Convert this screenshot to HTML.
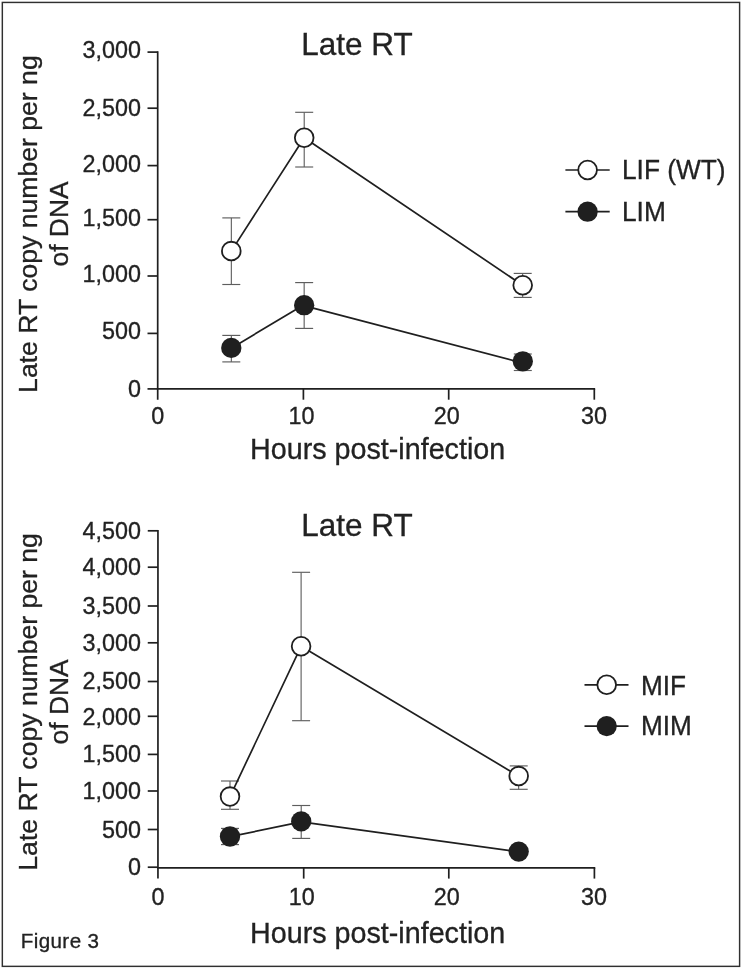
<!DOCTYPE html>
<html><head><meta charset="utf-8"><title>Figure 3</title>
<style>html,body{margin:0;padding:0;background:#fff;}svg{display:block;will-change:transform;}text{font-family:"Liberation Sans",sans-serif;fill:#222222;stroke:#222222;stroke-width:0.32px;}</style>
</head><body>
<svg width="742" height="969" viewBox="0 0 742 969">
<rect x="0" y="0" width="742" height="969" fill="#ffffff"/>
<rect x="2.33" y="2.43" width="737.27" height="963.93" fill="none" stroke="#303030" stroke-width="1.45"/>
<line x1="157.70" y1="51.25" x2="157.70" y2="399.70" stroke="#1f1f1f" stroke-width="1.70" stroke-linecap="butt"/>
<line x1="156.85" y1="388.90" x2="595.15" y2="388.90" stroke="#1f1f1f" stroke-width="1.70" stroke-linecap="butt"/>
<line x1="147.50" y1="52.10" x2="157.70" y2="52.10" stroke="#1f1f1f" stroke-width="1.70" stroke-linecap="butt"/>
<text transform="translate(141.00 58.10) scale(0.9700 1)" font-size="24.12" text-anchor="end" >3,000</text>
<line x1="147.50" y1="108.20" x2="157.70" y2="108.20" stroke="#1f1f1f" stroke-width="1.70" stroke-linecap="butt"/>
<text transform="translate(141.00 116.40) scale(0.9700 1)" font-size="24.12" text-anchor="end" >2,500</text>
<line x1="147.50" y1="165.60" x2="157.70" y2="165.60" stroke="#1f1f1f" stroke-width="1.70" stroke-linecap="butt"/>
<text transform="translate(141.00 171.65) scale(0.9700 1)" font-size="24.12" text-anchor="end" >2,000</text>
<line x1="147.50" y1="219.70" x2="157.70" y2="219.70" stroke="#1f1f1f" stroke-width="1.70" stroke-linecap="butt"/>
<text transform="translate(141.00 225.50) scale(0.9700 1)" font-size="24.12" text-anchor="end" >1,500</text>
<line x1="147.50" y1="276.00" x2="157.70" y2="276.00" stroke="#1f1f1f" stroke-width="1.70" stroke-linecap="butt"/>
<text transform="translate(141.00 281.80) scale(0.9700 1)" font-size="24.12" text-anchor="end" >1,000</text>
<line x1="147.50" y1="333.40" x2="157.70" y2="333.40" stroke="#1f1f1f" stroke-width="1.70" stroke-linecap="butt"/>
<text transform="translate(141.00 338.90) scale(0.9700 1)" font-size="24.12" text-anchor="end" >500</text>
<line x1="147.50" y1="388.90" x2="157.70" y2="388.90" stroke="#1f1f1f" stroke-width="1.70" stroke-linecap="butt"/>
<text transform="translate(141.00 396.90) scale(0.9700 1)" font-size="24.12" text-anchor="end" >0</text>
<text transform="translate(157.80 424.40) scale(0.9700 1)" font-size="24.12" text-anchor="middle" >0</text>
<line x1="303.40" y1="388.90" x2="303.40" y2="399.70" stroke="#1f1f1f" stroke-width="1.70" stroke-linecap="butt"/>
<text transform="translate(301.50 424.40) scale(0.9700 1)" font-size="24.12" text-anchor="middle" >10</text>
<line x1="448.70" y1="388.90" x2="448.70" y2="399.70" stroke="#1f1f1f" stroke-width="1.70" stroke-linecap="butt"/>
<text transform="translate(446.70 424.40) scale(0.9700 1)" font-size="24.12" text-anchor="middle" >20</text>
<line x1="594.30" y1="388.90" x2="594.30" y2="399.70" stroke="#1f1f1f" stroke-width="1.70" stroke-linecap="butt"/>
<text transform="translate(594.00 424.40) scale(0.9700 1)" font-size="24.12" text-anchor="middle" >30</text>
<text transform="translate(301.30 54.90) scale(0.9850 1)" font-size="31.98" text-anchor="start" >Late RT</text>
<text transform="translate(250.10 459.20) scale(1.0000 1)" font-size="28.70" text-anchor="start" >Hours post-infection</text>
<text transform="translate(36.60 224.10) rotate(-90) scale(1.0000 1)" font-size="26.60" text-anchor="middle">Late RT copy number per ng</text>
<text transform="translate(67.60 223.95) rotate(-90) scale(1.0000 1)" font-size="26.45" text-anchor="middle">of DNA</text>
<line x1="231.30" y1="217.90" x2="231.30" y2="284.50" stroke="#4a4a4a" stroke-width="1.00" stroke-linecap="butt"/>
<line x1="222.30" y1="217.90" x2="240.30" y2="217.90" stroke="#5e5e5e" stroke-width="1.15" stroke-linecap="butt"/>
<line x1="222.30" y1="284.50" x2="240.30" y2="284.50" stroke="#5e5e5e" stroke-width="1.15" stroke-linecap="butt"/>
<line x1="304.20" y1="112.30" x2="304.20" y2="167.00" stroke="#4a4a4a" stroke-width="1.00" stroke-linecap="butt"/>
<line x1="295.20" y1="112.30" x2="313.20" y2="112.30" stroke="#5e5e5e" stroke-width="1.15" stroke-linecap="butt"/>
<line x1="295.20" y1="167.00" x2="313.20" y2="167.00" stroke="#5e5e5e" stroke-width="1.15" stroke-linecap="butt"/>
<line x1="522.70" y1="273.40" x2="522.70" y2="297.40" stroke="#4a4a4a" stroke-width="1.00" stroke-linecap="butt"/>
<line x1="513.70" y1="273.40" x2="531.70" y2="273.40" stroke="#5e5e5e" stroke-width="1.15" stroke-linecap="butt"/>
<line x1="513.70" y1="297.40" x2="531.70" y2="297.40" stroke="#5e5e5e" stroke-width="1.15" stroke-linecap="butt"/>
<line x1="231.30" y1="335.40" x2="231.30" y2="361.90" stroke="#4a4a4a" stroke-width="1.00" stroke-linecap="butt"/>
<line x1="222.30" y1="335.40" x2="240.30" y2="335.40" stroke="#5e5e5e" stroke-width="1.15" stroke-linecap="butt"/>
<line x1="222.30" y1="361.90" x2="240.30" y2="361.90" stroke="#5e5e5e" stroke-width="1.15" stroke-linecap="butt"/>
<line x1="304.15" y1="282.60" x2="304.15" y2="328.40" stroke="#4a4a4a" stroke-width="1.00" stroke-linecap="butt"/>
<line x1="295.15" y1="282.60" x2="313.15" y2="282.60" stroke="#5e5e5e" stroke-width="1.15" stroke-linecap="butt"/>
<line x1="295.15" y1="328.40" x2="313.15" y2="328.40" stroke="#5e5e5e" stroke-width="1.15" stroke-linecap="butt"/>
<line x1="522.80" y1="354.00" x2="522.80" y2="370.50" stroke="#4a4a4a" stroke-width="1.00" stroke-linecap="butt"/>
<line x1="513.80" y1="354.00" x2="531.80" y2="354.00" stroke="#5e5e5e" stroke-width="1.15" stroke-linecap="butt"/>
<line x1="513.80" y1="370.50" x2="531.80" y2="370.50" stroke="#5e5e5e" stroke-width="1.15" stroke-linecap="butt"/>
<path d="M231.30 251.10 L304.20 137.70 L522.70 285.30" fill="none" stroke="#1f1f1f" stroke-width="1.70" stroke-linejoin="round"/>
<path d="M231.30 348.20 L302.70 305.40 L522.70 363.00" fill="none" stroke="#1f1f1f" stroke-width="1.70" stroke-linejoin="round"/>
<circle cx="231.30" cy="251.10" r="9.35" fill="#ffffff" stroke="#1f1f1f" stroke-width="1.80"/>
<circle cx="304.20" cy="137.70" r="9.35" fill="#ffffff" stroke="#1f1f1f" stroke-width="1.80"/>
<circle cx="522.70" cy="285.30" r="9.35" fill="#ffffff" stroke="#1f1f1f" stroke-width="1.80"/>
<circle cx="231.30" cy="347.90" r="10.15" fill="#1f1f1f"/>
<circle cx="304.15" cy="305.20" r="10.15" fill="#1f1f1f"/>
<circle cx="522.80" cy="361.30" r="10.15" fill="#1f1f1f"/>
<line x1="565.40" y1="170.00" x2="609.70" y2="170.00" stroke="#1f1f1f" stroke-width="1.70" stroke-linecap="butt"/>
<circle cx="587.60" cy="170.00" r="9.35" fill="#ffffff" stroke="#1f1f1f" stroke-width="1.80"/>
<text transform="translate(622.00 179.30) scale(0.9700 1)" font-size="27.11" text-anchor="start" >LIF (WT)</text>
<line x1="565.40" y1="211.70" x2="609.70" y2="211.70" stroke="#1f1f1f" stroke-width="1.70" stroke-linecap="butt"/>
<circle cx="587.60" cy="211.70" r="10.15" fill="#1f1f1f"/>
<text transform="translate(622.00 221.25) scale(0.9700 1)" font-size="27.11" text-anchor="start" >LIM</text>
<line x1="157.95" y1="529.95" x2="157.95" y2="878.60" stroke="#1f1f1f" stroke-width="1.70" stroke-linecap="butt"/>
<line x1="157.10" y1="867.80" x2="595.25" y2="867.80" stroke="#1f1f1f" stroke-width="1.70" stroke-linecap="butt"/>
<line x1="147.75" y1="530.80" x2="157.95" y2="530.80" stroke="#1f1f1f" stroke-width="1.70" stroke-linecap="butt"/>
<text transform="translate(141.00 539.00) scale(0.9700 1)" font-size="24.12" text-anchor="end" >4,500</text>
<line x1="147.75" y1="567.20" x2="157.95" y2="567.20" stroke="#1f1f1f" stroke-width="1.70" stroke-linecap="butt"/>
<text transform="translate(141.00 575.40) scale(0.9700 1)" font-size="24.12" text-anchor="end" >4,000</text>
<line x1="147.75" y1="606.00" x2="157.95" y2="606.00" stroke="#1f1f1f" stroke-width="1.70" stroke-linecap="butt"/>
<text transform="translate(141.00 614.20) scale(0.9700 1)" font-size="24.12" text-anchor="end" >3,500</text>
<line x1="147.75" y1="642.80" x2="157.95" y2="642.80" stroke="#1f1f1f" stroke-width="1.70" stroke-linecap="butt"/>
<text transform="translate(141.00 650.55) scale(0.9700 1)" font-size="24.12" text-anchor="end" >3,000</text>
<line x1="147.75" y1="681.50" x2="157.95" y2="681.50" stroke="#1f1f1f" stroke-width="1.70" stroke-linecap="butt"/>
<text transform="translate(141.00 689.05) scale(0.9700 1)" font-size="24.12" text-anchor="end" >2,500</text>
<line x1="147.75" y1="716.30" x2="157.95" y2="716.30" stroke="#1f1f1f" stroke-width="1.70" stroke-linecap="butt"/>
<text transform="translate(141.00 724.60) scale(0.9700 1)" font-size="24.12" text-anchor="end" >2,000</text>
<line x1="147.75" y1="754.40" x2="157.95" y2="754.40" stroke="#1f1f1f" stroke-width="1.70" stroke-linecap="butt"/>
<text transform="translate(141.00 761.95) scale(0.9700 1)" font-size="24.12" text-anchor="end" >1,500</text>
<line x1="147.75" y1="791.00" x2="157.95" y2="791.00" stroke="#1f1f1f" stroke-width="1.70" stroke-linecap="butt"/>
<text transform="translate(141.00 798.70) scale(0.9700 1)" font-size="24.12" text-anchor="end" >1,000</text>
<line x1="147.75" y1="829.50" x2="157.95" y2="829.50" stroke="#1f1f1f" stroke-width="1.70" stroke-linecap="butt"/>
<text transform="translate(141.00 837.60) scale(0.9700 1)" font-size="24.12" text-anchor="end" >500</text>
<line x1="147.75" y1="867.20" x2="157.95" y2="867.20" stroke="#1f1f1f" stroke-width="1.70" stroke-linecap="butt"/>
<text transform="translate(141.00 875.00) scale(0.9700 1)" font-size="24.12" text-anchor="end" >0</text>
<text transform="translate(158.05 905.30) scale(0.9700 1)" font-size="24.12" text-anchor="middle" >0</text>
<line x1="303.70" y1="867.80" x2="303.70" y2="878.60" stroke="#1f1f1f" stroke-width="1.70" stroke-linecap="butt"/>
<text transform="translate(301.80 905.30) scale(0.9700 1)" font-size="24.12" text-anchor="middle" >10</text>
<line x1="448.80" y1="867.80" x2="448.80" y2="878.60" stroke="#1f1f1f" stroke-width="1.70" stroke-linecap="butt"/>
<text transform="translate(446.80 905.30) scale(0.9700 1)" font-size="24.12" text-anchor="middle" >20</text>
<line x1="594.40" y1="867.80" x2="594.40" y2="878.60" stroke="#1f1f1f" stroke-width="1.70" stroke-linecap="butt"/>
<text transform="translate(594.10 905.30) scale(0.9700 1)" font-size="24.12" text-anchor="middle" >30</text>
<text transform="translate(301.30 536.20) scale(0.9850 1)" font-size="31.98" text-anchor="start" >Late RT</text>
<text transform="translate(250.10 942.50) scale(1.0000 1)" font-size="28.70" text-anchor="start" >Hours post-infection</text>
<text transform="translate(36.60 701.90) rotate(-90) scale(1.0000 1)" font-size="26.60" text-anchor="middle">Late RT copy number per ng</text>
<text transform="translate(67.60 701.85) rotate(-90) scale(1.0000 1)" font-size="26.45" text-anchor="middle">of DNA</text>
<line x1="230.00" y1="781.00" x2="230.00" y2="809.30" stroke="#4a4a4a" stroke-width="1.00" stroke-linecap="butt"/>
<line x1="221.00" y1="781.00" x2="239.00" y2="781.00" stroke="#5e5e5e" stroke-width="1.15" stroke-linecap="butt"/>
<line x1="221.00" y1="809.30" x2="239.00" y2="809.30" stroke="#5e5e5e" stroke-width="1.15" stroke-linecap="butt"/>
<line x1="301.10" y1="572.30" x2="301.10" y2="720.70" stroke="#4a4a4a" stroke-width="1.00" stroke-linecap="butt"/>
<line x1="292.10" y1="572.30" x2="310.10" y2="572.30" stroke="#5e5e5e" stroke-width="1.15" stroke-linecap="butt"/>
<line x1="292.10" y1="720.70" x2="310.10" y2="720.70" stroke="#5e5e5e" stroke-width="1.15" stroke-linecap="butt"/>
<line x1="518.70" y1="765.90" x2="518.70" y2="789.30" stroke="#4a4a4a" stroke-width="1.00" stroke-linecap="butt"/>
<line x1="509.70" y1="765.90" x2="527.70" y2="765.90" stroke="#5e5e5e" stroke-width="1.15" stroke-linecap="butt"/>
<line x1="509.70" y1="789.30" x2="527.70" y2="789.30" stroke="#5e5e5e" stroke-width="1.15" stroke-linecap="butt"/>
<line x1="230.00" y1="828.40" x2="230.00" y2="844.60" stroke="#4a4a4a" stroke-width="1.00" stroke-linecap="butt"/>
<line x1="221.00" y1="828.40" x2="239.00" y2="828.40" stroke="#5e5e5e" stroke-width="1.15" stroke-linecap="butt"/>
<line x1="221.00" y1="844.60" x2="239.00" y2="844.60" stroke="#5e5e5e" stroke-width="1.15" stroke-linecap="butt"/>
<line x1="301.20" y1="805.50" x2="301.20" y2="838.40" stroke="#4a4a4a" stroke-width="1.00" stroke-linecap="butt"/>
<line x1="292.20" y1="805.50" x2="310.20" y2="805.50" stroke="#5e5e5e" stroke-width="1.15" stroke-linecap="butt"/>
<line x1="292.20" y1="838.40" x2="310.20" y2="838.40" stroke="#5e5e5e" stroke-width="1.15" stroke-linecap="butt"/>
<path d="M230.00 796.60 L301.10 646.30 L518.70 776.10" fill="none" stroke="#1f1f1f" stroke-width="1.70" stroke-linejoin="round"/>
<path d="M230.00 836.70 L301.20 821.90 L518.70 851.80" fill="none" stroke="#1f1f1f" stroke-width="1.70" stroke-linejoin="round"/>
<circle cx="230.00" cy="796.60" r="9.35" fill="#ffffff" stroke="#1f1f1f" stroke-width="1.80"/>
<circle cx="301.10" cy="646.30" r="9.35" fill="#ffffff" stroke="#1f1f1f" stroke-width="1.80"/>
<circle cx="518.70" cy="776.10" r="9.35" fill="#ffffff" stroke="#1f1f1f" stroke-width="1.80"/>
<circle cx="230.00" cy="836.50" r="10.15" fill="#1f1f1f"/>
<circle cx="301.20" cy="821.40" r="10.15" fill="#1f1f1f"/>
<circle cx="518.70" cy="851.60" r="10.15" fill="#1f1f1f"/>
<line x1="584.50" y1="684.80" x2="628.50" y2="684.80" stroke="#1f1f1f" stroke-width="1.70" stroke-linecap="butt"/>
<circle cx="606.70" cy="684.80" r="9.35" fill="#ffffff" stroke="#1f1f1f" stroke-width="1.80"/>
<text transform="translate(641.00 695.25) scale(0.9700 1)" font-size="26.96" text-anchor="start" >MIF</text>
<line x1="584.50" y1="726.10" x2="628.50" y2="726.10" stroke="#1f1f1f" stroke-width="1.70" stroke-linecap="butt"/>
<circle cx="606.70" cy="726.10" r="10.15" fill="#1f1f1f"/>
<text transform="translate(641.00 734.65) scale(0.9700 1)" font-size="26.96" text-anchor="start" >MIM</text>
<text transform="translate(20.70 948.20) scale(1.0000 1)" font-size="20.60" text-anchor="start" textLength="78.4" lengthAdjust="spacing" stroke-width="0.12">Figure 3</text>
</svg>
</body></html>
